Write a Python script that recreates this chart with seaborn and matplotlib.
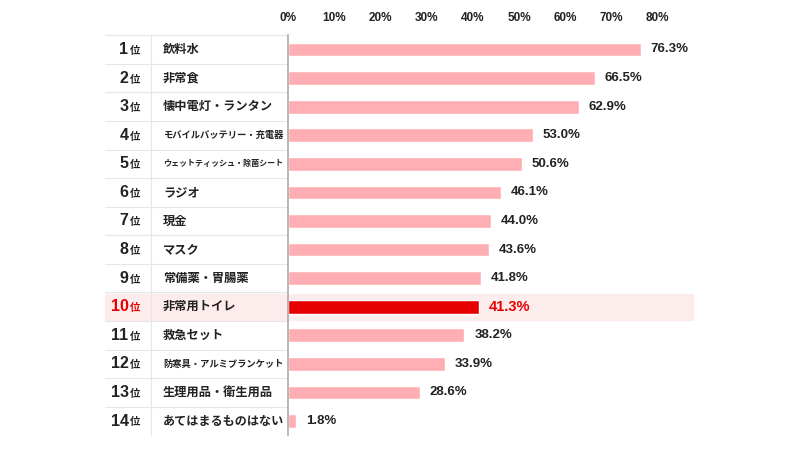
import matplotlib
matplotlib.use("Agg")
import matplotlib.pyplot as plt
import matplotlib.transforms as mtransforms
import seaborn as sns
import pandas as pd

ranks = list(range(1, 15))
items = ["飲料水", "非常食", "懐中電灯・ランタン", "モバイルバッテリー・充電器",
         "ウェットティッシュ・除菌シート", "ラジオ", "現金", "マスク", "常備薬・胃腸薬",
         "非常用トイレ", "救急セット", "防寒具・アルミブランケット", "生理用品・衛生用品",
         "あてはまるものはない"]
values = [76.3, 66.5, 62.9, 53.0, 50.6, 46.1, 44.0, 43.6, 41.8, 41.3, 38.2, 33.9, 28.6, 1.8]
ticks = [0, 10, 20, 30, 40, 50, 60, 70, 80]
highlight_rank = 10

PINK = "#ffafb4"
RED = "#e60000"
HL_BG = "#fdecec"
GRID = "#e6e6e6"

sns.set_theme(style="white")
plt.rcParams["font.family"] = ["Noto Sans CJK JP", "DejaVu Sans"]
NUM_FONT = ["Liberation Sans", "Noto Sans CJK JP"]

df = pd.DataFrame({"rank": ranks, "item": items, "value": values})
colors = [RED if r == highlight_rank else PINK for r in ranks]

W, H = 800, 450
fig = plt.figure(figsize=(8, 4.5), dpi=100)
ax_left, ax_right = 288, 693
row_top, row_bot = 35.2, 435.3
ax = fig.add_axes([ax_left / W, 1 - row_bot / H, (ax_right - ax_left) / W, (row_bot - row_top) / H])

sns.barplot(data=df, x="value", y="item", hue="item", palette=colors, legend=False,
            width=0.48, orient="h", ax=ax, saturation=1, zorder=3)

scale = 4.62  # px per percent
ax.set_xlim(0, (ax_right - ax_left) / scale)
ax.set_ylim(len(items) - 0.5, -0.5)
ax.set_xlabel("")
ax.set_ylabel("")
ax.set_yticks([])
ax.xaxis.tick_top()
ax.set_xticks(ticks)
ax.set_xticklabels([f"{t}%" for t in ticks], fontsize=8.5, fontweight="bold",
                   family=NUM_FONT, color="#222222")
ax.tick_params(axis="x", length=0, pad=8)
for s in ["top", "right", "bottom"]:
    ax.spines[s].set_visible(False)
ax.spines["left"].set_color("#aaaaaa")
ax.spines["left"].set_linewidth(1.2)
ax.spines["left"].set_zorder(4)

def px_to_ax(px):
    return (px - ax_left) / (ax_right - ax_left)

trans = mtransforms.blended_transform_factory(ax.transAxes, ax.transData)

# highlight row background
hi = ranks.index(highlight_rank)
ax.axhspan(hi - 0.45, hi + 0.45, xmin=px_to_ax(105), xmax=1.0, color=HL_BG,
           zorder=0, clip_on=False)

# table lines
for i in range(len(items)):
    y = i - 0.5
    ax.plot([px_to_ax(105), px_to_ax(287)], [y, y], transform=trans, color=GRID,
            lw=0.8, clip_on=False, zorder=1)
ax.plot([px_to_ax(151), px_to_ax(151)], [-0.5, len(items) - 0.5], transform=trans,
        color=GRID, lw=0.8, clip_on=False, zorder=1)

# rank and item labels
max_w = 121  # px
for i, (r, it, v) in enumerate(zip(ranks, items, values)):
    c = RED if r == highlight_rank else "#222222"
    ax.text(px_to_ax(128.5), i, str(r), transform=trans, ha="right", va="center",
            fontsize=11.5, fontweight="bold", family=NUM_FONT, color=c)
    ax.text(px_to_ax(129.5), i + 0.05, "位", transform=trans, ha="left", va="center",
            fontsize=7.5, fontweight="bold", color=c)
    fs = min(8.8, max_w / len(it) / (100 / 72))
    ax.text(px_to_ax(163), i, it, transform=trans, ha="left", va="center",
            fontsize=fs, fontweight="bold", color="#222222")
    ax.annotate(f"{v:.1f}%", xy=(v, i), xytext=(7, 0), textcoords="offset points",
                ha="left", va="center", fontweight="bold", family=NUM_FONT,
                fontsize=10.5 if r == highlight_rank else 9.5, color=c)

fig.savefig("out.png", dpi=100, facecolor="white")
